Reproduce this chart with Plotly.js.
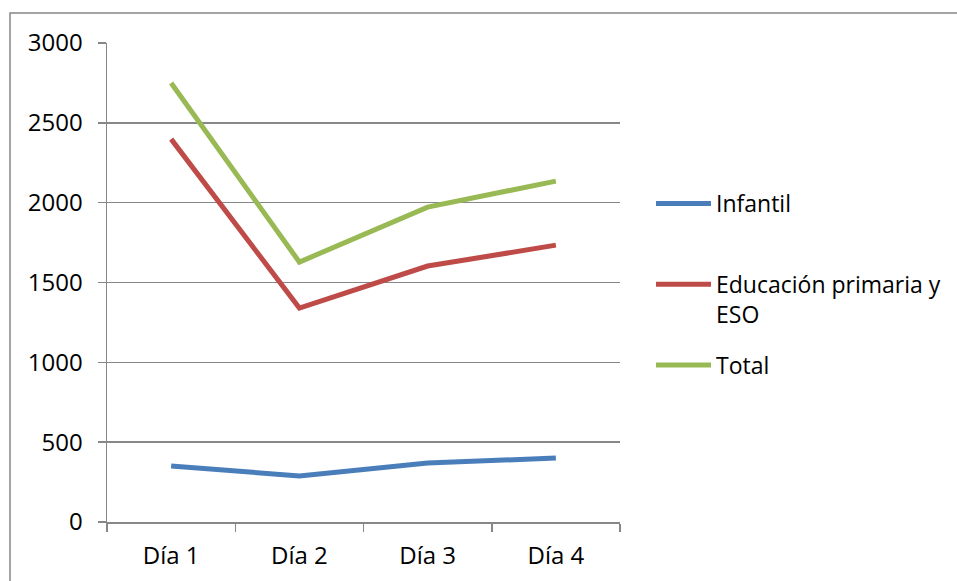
<!DOCTYPE html>
<html>
<head>
<meta charset="utf-8">
<script src="https://cdn.plot.ly/plotly-3.0.1.min.js"></script>
<style>
html,body{margin:0;padding:0;background:#fff;overflow:hidden;}
#chart{width:957px;height:581px;}
</style>
</head>
<body>
<div id="chart"></div>
<script>
const categories = ["Día 1", "Día 2", "Día 3", "Día 4"];
const seriesNames = ["Infantil", "Educación primaria y<br>ESO", "Total"];
const infantil = [351, 288, 369, 401];
const primariaESO = [2398, 1340, 1603, 1734];
const total = [2749, 1628, 1972, 2135];
const yTicks = [0, 500, 1000, 1500, 2000, 2500, 3000];
const colors = ["#4A7EBB", "#BE4B48", "#98B954"];

const allSeries = [infantil, primariaESO, total];
const traces = allSeries.map((vals, i) => ({
  type: "scatter",
  mode: "lines",
  x: categories,
  y: vals,
  name: i === 0 ? seriesNames[i] + "<br>&nbsp;" : seriesNames[i],
  legendgroup: "g" + i,
  line: {color: colors[i], width: 5},
  hoverinfo: "x+y"
}));

const fontFam = "'Open Sans', 'Noto Sans', sans-serif";
const layout = {
  width: 957, height: 581,
  margin: {l: 107, r: 337, t: 43, b: 59, autoexpand: false},
  paper_bgcolor: "#fff", plot_bgcolor: "#fff",
  font: {family: fontFam, size: 23, color: "#000"},
  showlegend: true,
  xaxis: {
    type: "category",
    range: [-0.5, 3.5],
    showgrid: false,
    showline: true, linecolor: "#878787", linewidth: 1.5,
    ticks: "outside", tickson: "boundaries", ticklen: 8, tickcolor: "#878787", tickwidth: 1.5,
    ticklabelstandoff: 12,
    tickfont: {family: fontFam, size: 24},
    fixedrange: true
  },
  yaxis: {
    range: [0, 3000],
    tickvals: yTicks,
    ticktext: yTicks.map(String),
    showgrid: true, gridcolor: "#878787", gridwidth: 1.5,
    showline: true, linecolor: "#878787", linewidth: 1.5,
    ticks: "outside", ticklen: 8, tickcolor: "#878787", tickwidth: 1.5,
    ticklabelstandoff: 10,
    zeroline: false,
    tickfont: {family: fontFam, size: 24},
    fixedrange: true
  },
  legend: {
    x: (651 - 107) / 513, xanchor: "left",
    y: (522 - 182) / 479, yanchor: "top",
    valign: "top",
    traceorder: "grouped",
    tracegroupgap: 18,
    itemwidth: 55,
    font: {family: fontFam, size: 23, color: "#000"},
    bgcolor: "rgba(0,0,0,0)", borderwidth: 0
  },
  shapes: [{
    type: "rect", xref: "paper", yref: "paper",
    x0: (10 - 107) / 513, x1: (1000 - 107) / 513,
    y0: (522 - 620) / 479, y1: (522 - 13) / 479,
    line: {color: "#878787", width: 1.5}, fillcolor: "rgba(0,0,0,0)", layer: "below"
  }]
};

Plotly.newPlot("chart", traces, layout, {displayModeBar: false, staticPlot: true});
</script>
</body>
</html>
